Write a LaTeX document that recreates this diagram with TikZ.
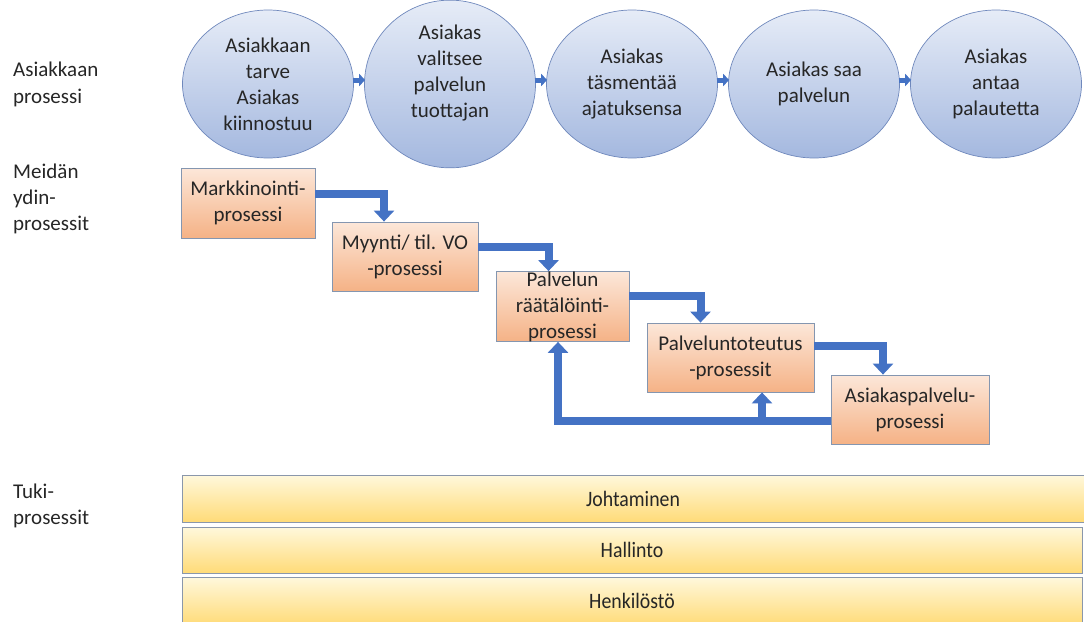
\documentclass[tikz,border=0pt]{standalone}
\usepackage{fontspec}
\setmainfont{Carlito}
\newfontfamily\barfont[FakeStretch=0.9]{Carlito}
\usetikzlibrary{shapes.geometric,arrows.meta}

\definecolor{flowblue}{HTML}{4472C4}
\definecolor{elltop}{HTML}{E6ECF7}
\definecolor{ellbot}{HTML}{A4B8DF}
\definecolor{ellline}{HTML}{6F88BC}
\definecolor{boxtop}{HTML}{FCE7D9}
\definecolor{boxbot}{HTML}{F5B286}
\definecolor{boxline}{HTML}{8496B0}
\definecolor{bartop}{HTML}{FFF8DC}
\definecolor{barbot}{HTML}{FFDB78}
\definecolor{barline}{HTML}{8A97AB}

\begin{document}
\begin{tikzpicture}[x=1pt,y=-1pt,
  txt/.style={font=\fontsize{21pt}{26pt}\selectfont, text=black!85},
  stage/.style={txt, ellipse, draw=ellline, line width=0.7pt,
    top color=elltop, bottom color=ellbot,
    minimum width=171pt, minimum height=148pt, inner sep=0pt, align=center},
  core/.style={txt, rectangle, draw=boxline, line width=0.8pt,
    top color=boxtop, bottom color=boxbot, inner sep=0pt, align=center},
  support/.style={rectangle, draw=barline, line width=0.8pt,
    top color=bartop, bottom color=barbot, inner sep=0pt,
    minimum width=900pt, font=\barfont\fontsize{22pt}{26pt}\selectfont, text=black!85},
  rowlabel/.style={txt, anchor=west, align=left, inner sep=0pt},
  flow/.style={draw=flowblue, line width=8pt, line join=miter,
    -{Triangle[width=20pt,length=11pt]}},
  stagearrow/.style={draw=flowblue, line width=5pt,
    -{Triangle[width=12pt,length=6pt]}},
]
\useasboundingbox (0,0) rectangle (1084,621);

% row labels
\node[rowlabel] (lcust) at (13,84) {Asiakkaan\\[1pt]prosessi};
\node[rowlabel] (lcore) at (13,199) {Meidän\\ydin-\\prosessit};
\node[rowlabel] (lsupp) at (13,506) {Tuki-\\prosessit};

% customer process stages
\node[stage] (e1) at (268,84) {Asiakkaan\\tarve\\Asiakas\\kiinnostuu};
\node[stage] (e2) at (450,84) {Asiakas\\valitsee\\palvelun\\tuottajan\\~};
\node[stage] (e3) at (632,84) {Asiakas\\täsmentää\\ajatuksensa};
\node[stage] (e4) at (814,84) {Asiakas saa\\palvelun};
\node[stage] (e5) at (996,84) {Asiakas\\antaa\\palautetta};

\foreach \a/\b in {e1/e2,e2/e3,e3/e4,e4/e5}
  \draw[stagearrow] ([yshift=4pt,xshift=-1pt]\a.east) -- ([yshift=4pt,xshift=1pt]\b.west);

% core processes
\node[core, minimum width=134pt, minimum height=70pt] (mark) at (248,203) {Markkinointi-\\prosessi};
\node[core, minimum width=146pt, minimum height=69pt] (myyn) at (405,256.5) {Myynti/ til. VO\\-prosessi};
\node[core, minimum width=133pt, minimum height=69pt] (rata) at (562.5,306.5) {Palvelun\\räätälöinti-\\prosessi};
\node[core, minimum width=167pt, minimum height=69pt] (tote) at (730.5,357.5) {Palveluntoteutus\\-prosessit};
\node[core, minimum width=158pt, minimum height=69pt] (aspa) at (910,409.5) {Asiakaspalvelu-\\prosessi};

\draw[flow] ([yshift=9pt]mark.east) -| ([xshift=-21pt]myyn.north);
\draw[flow] ([yshift=10pt]myyn.east) -| ([xshift=-14pt]rata.north);
\draw[flow] ([yshift=11pt]rata.east) -| ([xshift=-30pt]tote.north);
\draw[flow] ([yshift=12pt]tote.east) -| ([xshift=-27pt]aspa.north);

% feedback loop
\coordinate (fbstart) at ([yshift=-11.5pt]aspa.west);
\coordinate (totein) at ([xshift=31.5pt]tote.south);
\draw[flow] (fbstart) -| ([xshift=-4.5pt]rata.south);
\draw[flow] (totein |- fbstart) -- (totein);

% support processes
\node[support, minimum width=902pt, minimum height=47pt] (joht) at (633,498.5) {Johtaminen};
\node[support, minimum height=46pt] (hall) at (632,550) {Hallinto};
\node[support, minimum height=48pt] (henk) at (632,601) {Henkilöstö};
\end{tikzpicture}
\end{document}
